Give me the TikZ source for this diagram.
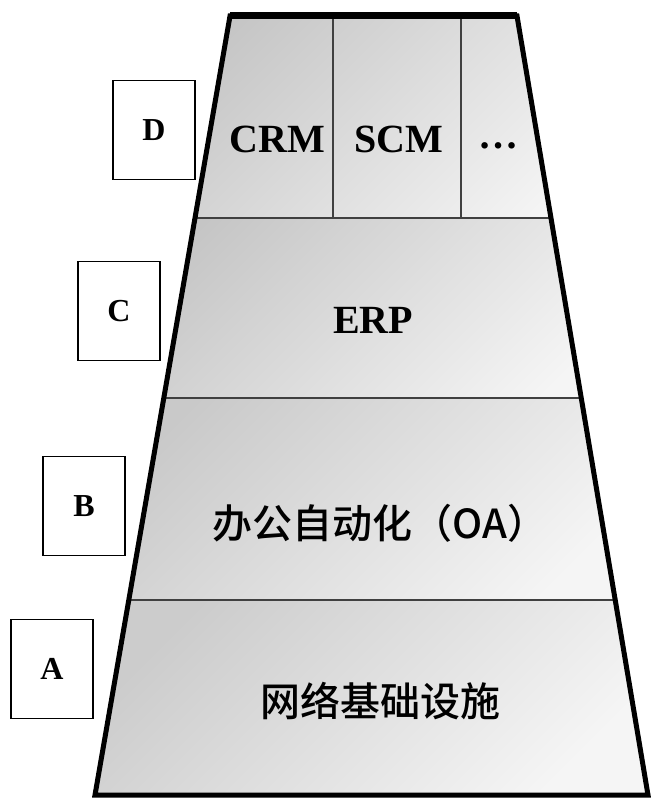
\documentclass[tikz,border=0pt]{standalone}
\usepackage{fontspec}
\setmainfont{Liberation Serif}
\newfontfamily\cjk{Noto Sans CJK SC}[UprightFont=* Medium]
\begin{document}
\begin{tikzpicture}[x=1pt,y=-1pt,
  layer/.style={top color=#1, bottom color=white!96!black, shading angle=45},
  divider/.style={line width=2pt, draw=black!75},
  outline/.style={line width=5pt, line join=miter},
  tag/.style={draw, line width=1.4pt, fill=white, minimum width=82pt, minimum height=99pt,
              inner sep=0pt, font=\fontsize{32}{32}\selectfont\bfseries},
  latin/.style={font=\fontsize{40}{40}\selectfont\bfseries, inner sep=0pt},
  hanzi/.style={font=\fontsize{40}{40}\selectfont\cjk, inner sep=0pt}]
\useasboundingbox (0,0) rectangle (650,799);

% trapezoid corners
\coordinate (tl) at (230,16);
\coordinate (tr) at (517,16);
\coordinate (br) at (648,795);
\coordinate (bl) at (95,795);

\begin{scope}
  \clip (tl) -- (tr) -- (br) -- (bl) -- cycle;
  % shaded layers
  \shade[layer=black!24] (90,16)  rectangle (650,218);
  \shade[layer=black!23] (90,218) rectangle (650,398);
  \shade[layer=black!21] (90,398) rectangle (650,600);
  \shade[layer=black!20] (90,600) rectangle (650,795);
  % layer dividers
  \draw[divider] (90,218) -- (650,218);
  \draw[divider] (90,398) -- (650,398);
  \draw[divider] (90,600) -- (650,600);
  \draw[divider] (333,16) -- (333,218);
  \draw[divider] (461,16) -- (461,218);
\end{scope}

% outer frame
\draw[outline] (tl) -- (tr) -- (br) -- (bl) -- cycle;
\draw[line width=7pt] (tl) -- (tr);

% layer contents
\node[latin, anchor=base] (crm) at (277,153) {CRM};
\node[latin, anchor=base] (scm) at (399,153) {SCM};
\node[latin, anchor=base] (more) at (498,149) {\ldots};
\node[latin, anchor=base] (erp) at (373,333) {ERP};
\node[hanzi] (oa) at (380,523) {办公自动化（OA）};
\node[hanzi] (net) at (380,701) {网络基础设施};

% level tags
\node[tag] (d) at (154,130) {D};
\node[tag] (c) at (119,311) {C};
\node[tag] (b) at (84,506) {B};
\node[tag] (a) at (52,669) {A};
\end{tikzpicture}
\end{document}
